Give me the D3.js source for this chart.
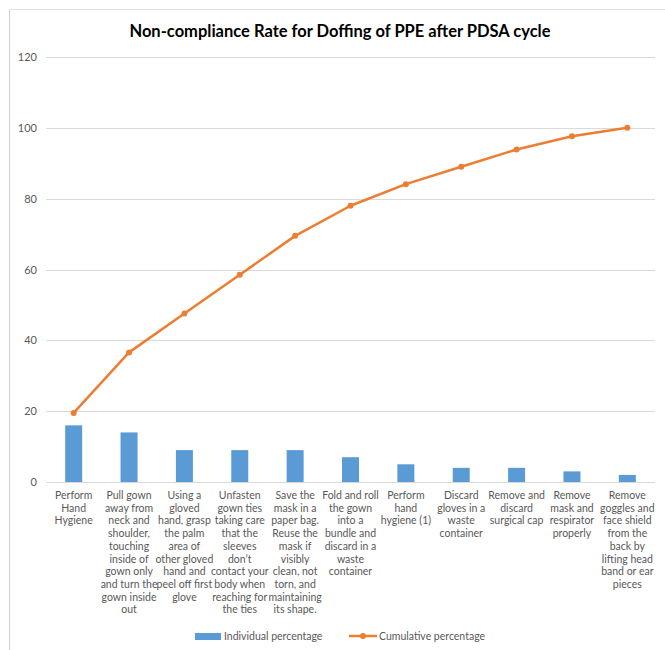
<!DOCTYPE html>
<html>
<head>
<meta charset="utf-8">
<script src="https://cdn.jsdelivr.net/npm/d3@7"></script>
<style>
  html, body { margin: 0; padding: 0; background: #fff; }
  svg text { font-family: Lato, "Open Sans", sans-serif; }
</style>
</head>
<body>
<svg id="chart" width="665" height="650"></svg>
<script>
const title = "Non-compliance Rate for Doffing of PPE after PDSA cycle";
const categories = [
  ["Perform", "Hand", "Hygiene"],
  ["Pull gown", "away from", "neck and", "shoulder,", "touching", "inside of", "gown only", "and turn the", "gown inside", "out"],
  ["Using a", "gloved", "hand, grasp", "the palm", "area of", "other gloved", "hand and", "peel off first", "glove"],
  ["Unfasten", "gown ties", "taking care", "that the", "sleeves", "don’t", "contact your", "body when", "reaching for", "the ties"],
  ["Save the", "mask in a", "paper bag.", "Reuse the", "mask if", "visibly", "clean, not", "torn, and", "maintaining", "its shape."],
  ["Fold and roll", "the gown", "into a", "bundle and", "discard in a", "waste", "container"],
  ["Perform", "hand", "hygiene (1)"],
  ["Discard", "gloves in a", "waste", "container"],
  ["Remove and", "discard", "surgical cap"],
  ["Remove", "mask and", "respirator", "properly"],
  ["Remove", "goggles and", "face shield", "from the", "back by", "lifting head", "band or ear", "pieces"]
];
const individual = [16, 14, 9, 9, 9, 7, 5, 4, 4, 3, 2];
const cumulative = [19.5, 36.6, 47.6, 58.5, 69.5, 78.0, 84.1, 89.0, 93.9, 97.6, 100];
const yTicks = [0, 20, 40, 60, 80, 100, 120];
const seriesNames = ["Individual percentage", "Cumulative percentage"];

const svg = d3.select("#chart");
const barColor = "#5B9BD5", lineColor = "#ED7D31", textColor = "#595959", gridColor = "#d9d9d9";

// partial border (top and left only, as cropped)
svg.append("line").attr("x1", 9.5).attr("x2", 665).attr("y1", 9.5).attr("y2", 9.5)
  .attr("stroke", "#e0e0e0").attr("stroke-width", 1);
svg.append("line").attr("x1", 9.5).attr("x2", 9.5).attr("y1", 9.5).attr("y2", 650)
  .attr("stroke", "#d0d0d0").attr("stroke-width", 1);

svg.append("text").attr("x", 340).attr("y", 37).attr("text-anchor", "middle")
  .attr("font-size", 16.5).attr("font-weight", "bold").attr("fill", "#000").text(title);

const pLeft = 46, pRight = 655, pTop = 57, pBottom = 482;
const x = d3.scaleBand().domain(d3.range(categories.length)).range([pLeft, pRight]).paddingInner(0).paddingOuter(0);
const y = d3.scaleLinear().domain([0, 120]).range([pBottom, pTop]);

// gridlines
svg.append("g").selectAll("line").data(yTicks).join("line")
  .attr("x1", pLeft).attr("x2", pRight)
  .attr("y1", d => Math.round(y(d)) + 0.5).attr("y2", d => Math.round(y(d)) + 0.5)
  .attr("stroke", gridColor).attr("stroke-width", 1);

// y axis labels
const yAxis = d3.axisLeft(y).tickValues(yTicks).tickSize(0).tickPadding(0);
const gy = svg.append("g").attr("transform", `translate(37,0)`).call(yAxis);
gy.select(".domain").remove();
gy.selectAll("text").attr("fill", textColor).attr("font-size", 11).attr("font-family", "Lato, sans-serif");

// bars
const bw = 17;
svg.append("g").selectAll("rect").data(individual).join("rect")
  .attr("x", (d, i) => x(i) + x.bandwidth() / 2 - bw / 2)
  .attr("y", d => y(d))
  .attr("width", bw)
  .attr("height", d => pBottom - y(d))
  .attr("fill", barColor);

// line
const line = d3.line().x((d, i) => x(i) + x.bandwidth() / 2).y(d => y(d));
svg.append("path").datum(cumulative).attr("d", line)
  .attr("fill", "none").attr("stroke", lineColor).attr("stroke-width", 2.5).attr("stroke-linejoin", "round");
svg.append("g").selectAll("circle").data(cumulative).join("circle")
  .attr("cx", (d, i) => x(i) + x.bandwidth() / 2).attr("cy", d => y(d)).attr("r", 3)
  .attr("fill", lineColor);

// x labels
const lab = svg.append("g");
categories.forEach((lines, i) => {
  const t = lab.append("text").attr("text-anchor", "middle").attr("fill", textColor).attr("font-size", 10.5);
  lines.forEach((ln, j) => {
    t.append("tspan").attr("x", x(i) + x.bandwidth() / 2).attr("y", 499 + j * 12.7).text(ln);
  });
});

// legend
const ly = 636;
svg.append("rect").attr("x", 195).attr("y", ly - 3).attr("width", 26).attr("height", 7).attr("fill", barColor);
svg.append("text").attr("x", 224).attr("y", ly + 4).attr("font-size", 10.5).attr("fill", textColor).text(seriesNames[0]);
svg.append("line").attr("x1", 349).attr("x2", 377).attr("y1", ly).attr("y2", ly).attr("stroke", lineColor).attr("stroke-width", 2.5);
svg.append("circle").attr("cx", 363).attr("cy", ly).attr("r", 3).attr("fill", lineColor);
svg.append("text").attr("x", 379).attr("y", ly + 4).attr("font-size", 10.5).attr("fill", textColor).text(seriesNames[1]);
</script>
</body>
</html>
